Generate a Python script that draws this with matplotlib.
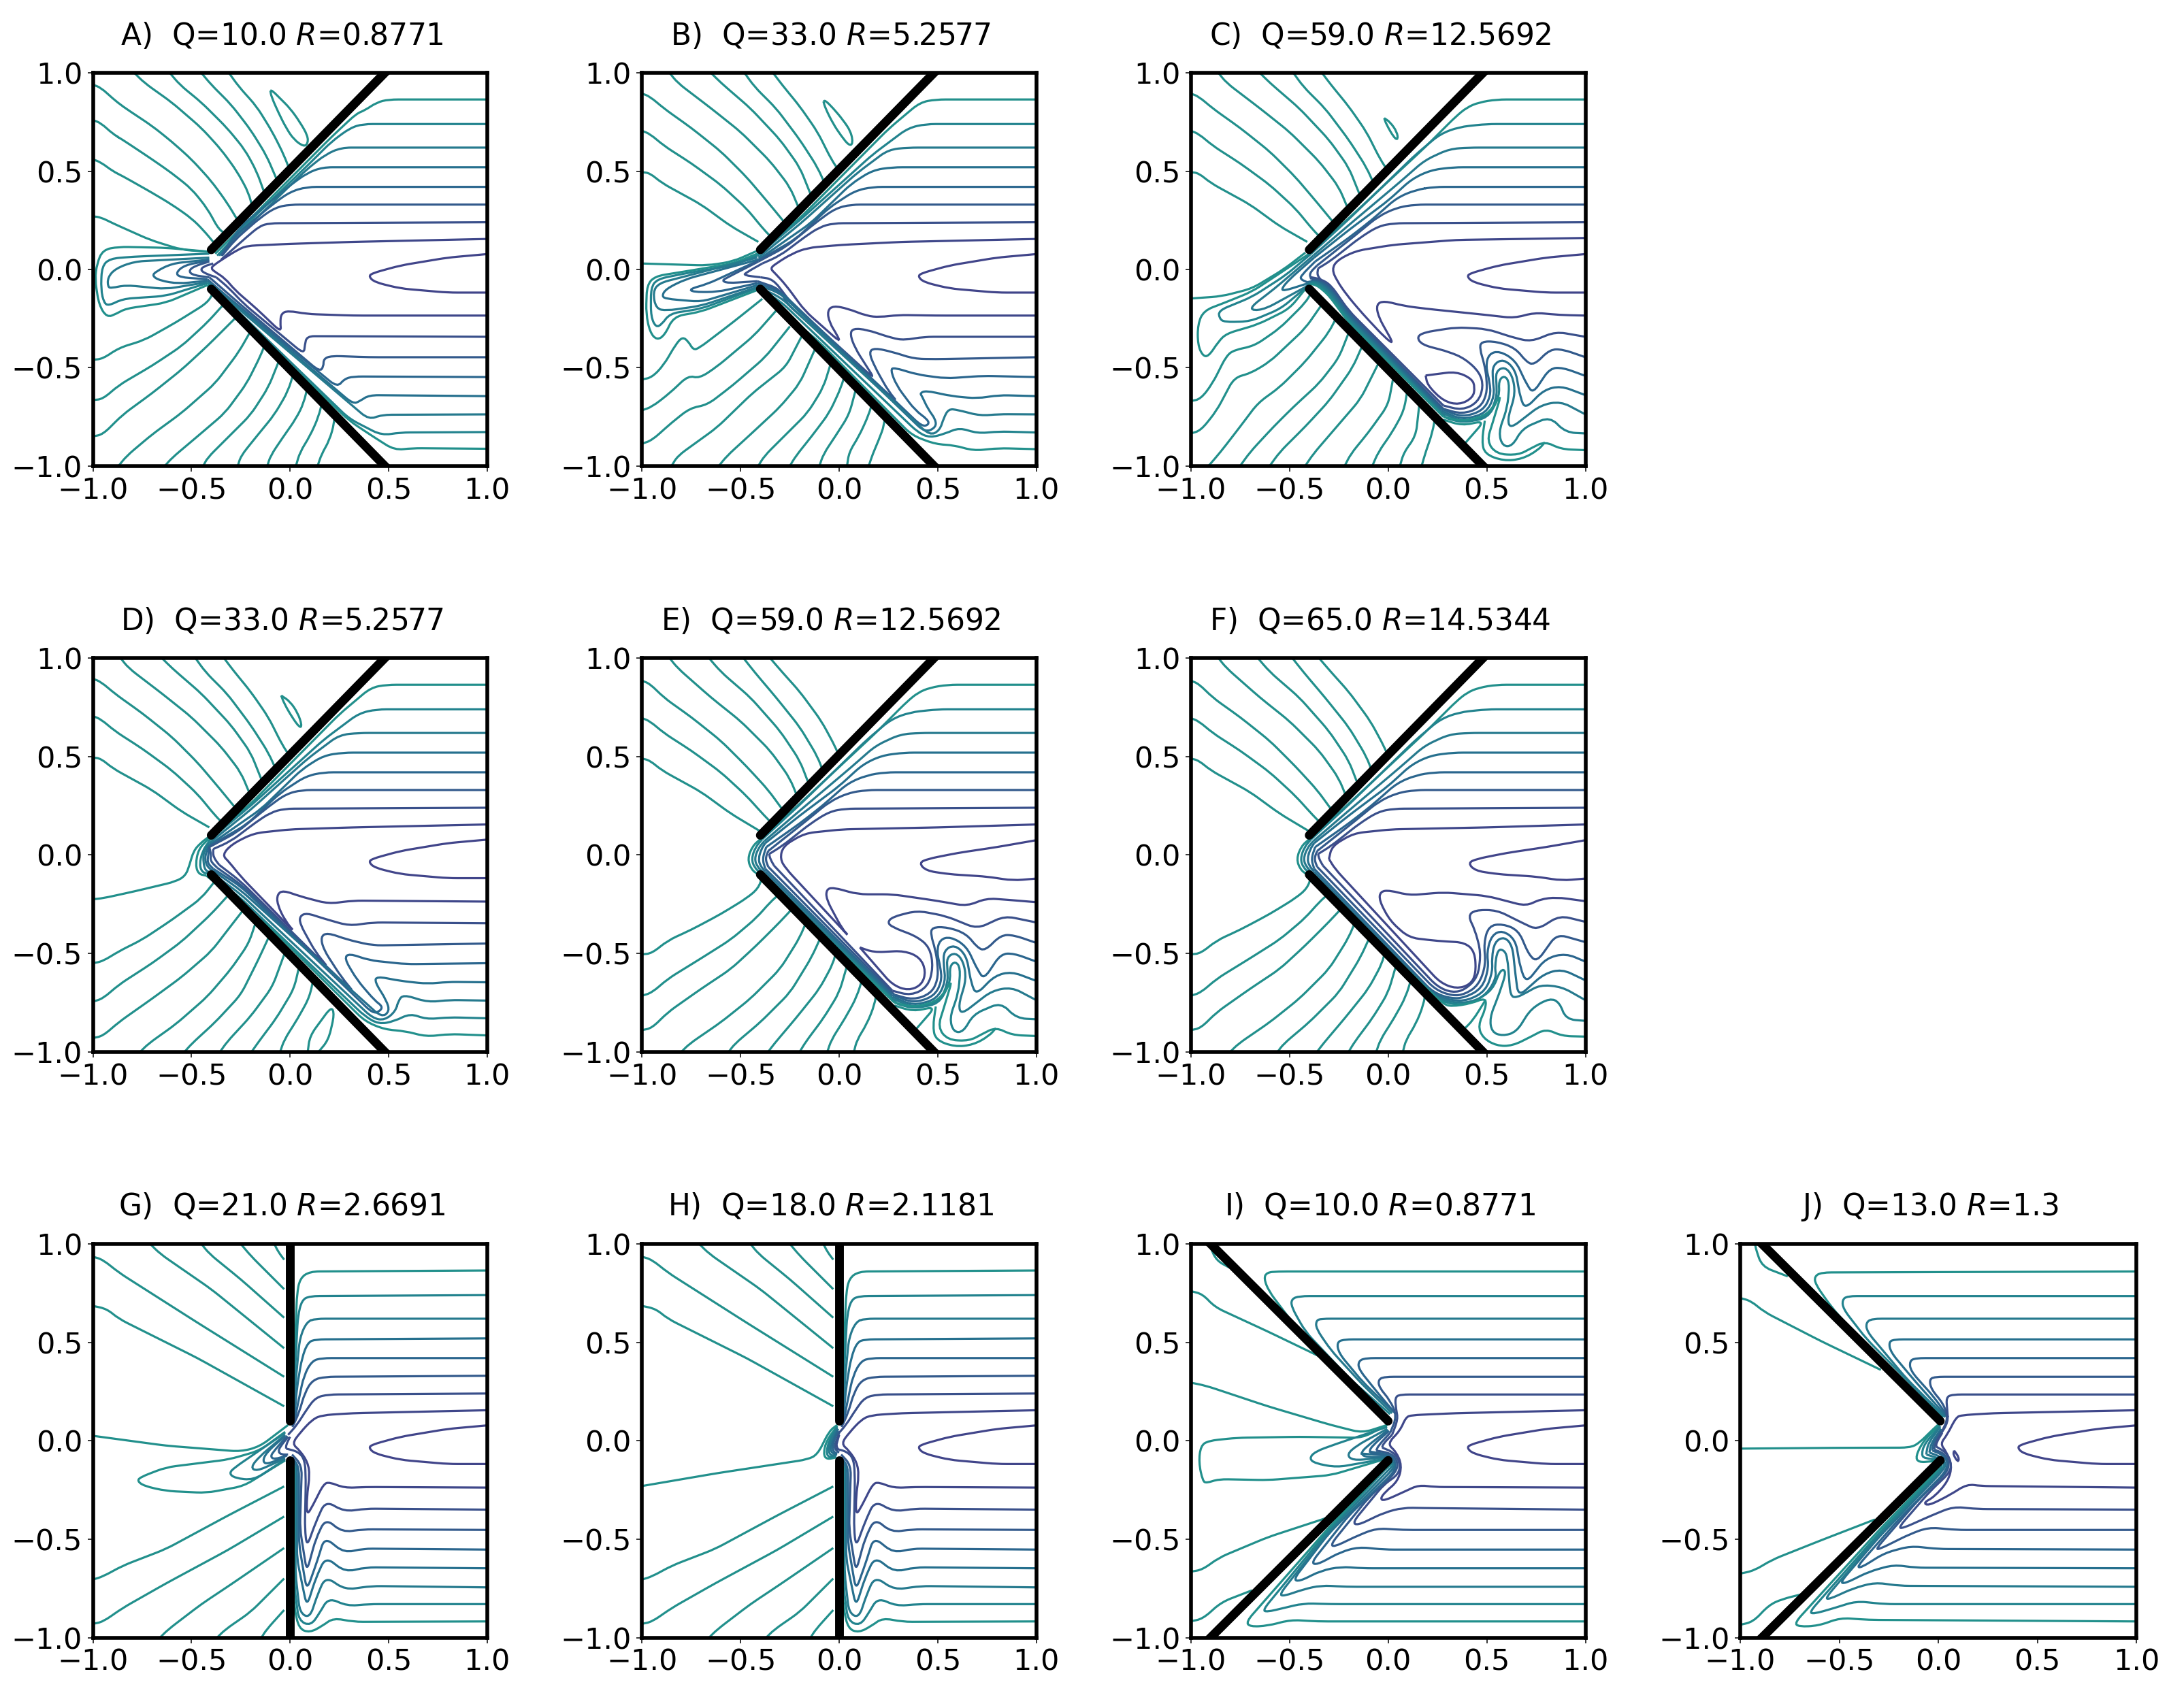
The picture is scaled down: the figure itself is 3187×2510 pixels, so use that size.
import numpy as np
import matplotlib
matplotlib.use('Agg')
import matplotlib.pyplot as plt
from matplotlib.path import Path
from matplotlib.patches import PathPatch

# contour levels, outermost teal to innermost blue; each line is (level, [x, y, x, y, ...])
level_colors = ['#22908c', '#22838e', '#267a8e', '#26708e', '#2b668e', '#335a8c', '#3a508b', '#3f478a', '#41458a']
titles = [r'A)  Q=10.0 $R$=0.8771', r'B)  Q=33.0 $R$=5.2577', r'C)  Q=59.0 $R$=12.5692',
          r'D)  Q=33.0 $R$=5.2577', r'E)  Q=59.0 $R$=12.5692', r'F)  Q=65.0 $R$=14.5344',
          r'G)  Q=21.0 $R$=2.6691', r'H)  Q=18.0 $R$=2.1181', r'I)  Q=10.0 $R$=0.8771', r'J)  Q=13.0 $R$=1.3']
ticks = [-1.0, -0.5, 0.0, 0.5, 1.0]

# walls
wall_fwd = [[-0.4, 0.1, 0.5, 1.02], [-0.4, -0.1, 0.5, -1.02]]
wall_mid = [[0, 0.1, 0, 1.05], [0, -0.1, 0, -1.05]]
wall_back = [[0, 0.1, -0.92, 1.02], [0, -0.1, -0.92, -1.02]]
wall_back_j = [[0.01, 0.1, -0.91, 1.02], [0.01, -0.1, -0.91, -1.02]]

core = [(8, [1, .078, .8, .06, .56, .02, .415, -.02, .4, -.037, .43, -.065, .56, -.097, .8, -.118, 1, -.118])]
core_e = [(8, [1, .075, .8, .04, .6, .01, .45, -.02, .405, -.04, .44, -.08, .56, -.098, .75, -.11, .88, -.13, 1, -.12])]

# panel A
a_upper = [
    (0, [1, .865, .6, .865, .5, .865, .44, .85, .38, .81, .337, .793, .21, .674, -.2, .26, -.38, .08]),
    (1, [1, .74, .37, .74, .305, .72, .21, .65, .1, .54, -.2, .25, -.37, .07]),
    (2, [1, .62, .26, .62, .18, .585, .08, .505, -.15, .28, -.36, .07]),
    (3, [1, .52, .165, .52, .085, .49, -.01, .42, -.25, .22, -.35, .075]),
    (4, [1, .42, .085, .42, 0, .395, -.09, .33, -.28, .17, -.35, .07]),
    (5, [1, .33, 0, .33, -.075, .315, -.155, .26, -.28, .15, -.345, .07]),
    (6, [1, .24, -.105, .235, -.155, .22, -.22, .165, -.31, .085, -.35, .05]),
    (7, [1, .155, .32, .14, 0, .13, -.22, .12, -.265, .1, -.33, .06, -.39, .02, -.4, .005, -.385, -.01, -.33, -.045,
         -.28, -.105, -.17, -.2, -.045, -.32, -.05, -.27, -.045, -.225, -.01, -.21, .085, -.227, .32, -.235, 1, -.235]),
]
a_fingers = [
    (0, [-.41, .09, -.63, .11, -.87, .115, -.95, .1, -.98, .03, -.99, -.05, -.97, -.18, -.93, -.245, -.88, -.225, -.835, -.2, -.63, -.17, -.42, -.08]),
    (1, [-.41, .08, -.79, .065, -.915, .055, -.955, .015, -.96, -.1, -.945, -.17, -.92, -.185, -.85, -.15, -.63, -.135, -.42, -.07]),
    (2, [-.41, .06, -.79, .04, -.885, .005, -.925, -.04, -.925, -.09, -.905, -.095, -.835, -.08, -.63, -.1, -.42, -.065]),
    (3, [-.41, .05, -.6, .03, -.68, -.01, -.7, -.033, -.66, -.057, -.565, -.073, -.42, -.057]),
    (4, [-.41, .045, -.535, .022, -.58, -.017, -.56, -.04, -.42, -.05]),
    (5, [-.41, .04, -.49, .015, -.515, -.01, -.49, -.03, -.41, -.04]),
    (6, [-.39, .03, -.44, .015, -.455, -.005, -.42, -.025, -.375, -.04]),
]
a_lower = [
    (6, [-.375, -.04, -.31, -.095, -.235, -.175, .07, -.43, .075, -.385, .085, -.34, .16, -.34, 1, -.343]),
    (5, [-.41, -.04, -.33, -.11, -.25, -.18, .15, -.52, .17, -.495, .17, -.455, .21, -.44, .4, -.447, 1, -.447]),
    (4, [-.42, -.05, -.34, -.12, .24, -.6, .275, -.558, .32, -.545, 1, -.548]),
    (3, [-.42, -.057, -.34, -.125, .32, -.685, .355, -.67, .4, -.64, 1, -.645]),
    (2, [-.42, -.065, -.35, -.125, .4, -.765, .465, -.74, 1, -.738]),
    (1, [-.42, -.07, -.35, -.13, .3, -.76, .465, -.845, .56, -.83, 1, -.828]),
    (0, [-.42, -.08, -.36, -.14, .3, -.77, .42, -.85, .53, -.92, .62, -.91, 1, -.913]),
]
a_left = [
    (0, [-1, .27, -.96, .265, -.9, .235, -.71, .15, -.55, .1, -.42, .09]),
    (0, [-1, .56, -.96, .545, -.9, .5, -.85, .475, -.7, .39, -.6, .33, -.5, .26, -.44, .2, -.39, .14]),
    (0, [-1, .76, -.96, .745, -.9, .69, -.85, .66, -.7, .56, -.6, .49, -.5, .41, -.42, .31, -.36, .2, -.32, .18]),
    (0, [-1, .94, -.96, .925, -.9, .87, -.85, .83, -.7, .73, -.6, .65, -.5, .56, -.4, .45, -.32, .34, -.26, .24]),
    (0, [-.79, 1, -.74, .95, -.6, .85, -.45, .72, -.35, .61, -.27, .5, -.21, .39, -.19, .31]),
    (0, [-.61, 1, -.56, .94, -.45, .85, -.32, .72, -.23, .61, -.17, .5, -.125, .375]),
    (0, [-.45, 1, -.4, .94, -.3, .84, -.2, .71, -.12, .58, -.06, .44]),
    (0, [-.31, 1, -.26, .93, -.17, .83, -.09, .7, -.03, .58, 0, .5]),
    (0, [-.1, .91, -.095, .88, -.06, .8, -.02, .72, .02, .66, .07, .625, .09, .64, .09, .68, .05, .75, 0, .82, -.05, .87, -.09, .91, -.1, .91]),
    (0, [-1, -.46, -.95, -.455, -.87, -.4, -.74, -.36, -.58, -.27, -.42, -.17, -.39, -.12]),
    (0, [-1, -.665, -.95, -.66, -.87, -.59, -.7, -.49, -.55, -.39, -.42, -.27, -.33, -.17]),
    (0, [-1, -.85, -.95, -.84, -.85, -.74, -.7, -.63, -.55, -.51, -.42, -.39, -.3, -.27, -.265, -.235]),
    (0, [-.87, -1, -.83, -.95, -.7, -.84, -.55, -.73, -.38, -.58, -.26, -.42, -.195, -.305]),
    (0, [-.635, -1, -.6, -.96, -.47, -.85, -.33, -.73, -.22, -.58, -.15, -.44, -.125, -.375]),
    (0, [-.44, -1, -.42, -.96, -.32, -.86, -.2, -.74, -.11, -.6, -.05, -.45]),
    (0, [-.265, -1, -.25, -.95, -.17, -.85, -.08, -.74, -.01, -.62, .02, -.52]),
    (0, [-.115, -1, -.1, -.95, -.04, -.86, .03, -.76, .07, -.68, .09, -.59]),
    (0, [.03, -1, .05, -.93, .1, -.85, .145, -.75, .165, -.665]),
    (0, [.14, -1, .16, -.94, .2, -.87, .225, -.78, .225, -.725]),
]

# panel B, upper lines also used by D
b_upper = [
    (0, [1, .865, .49, .865, .41, .85, .25, .715, -.2, .26, -.415, .08]),
    (1, [1, .74, .44, .74, .35, .72, .17, .585, -.2, .25, -.415, .07]),
    (2, [1, .62, .35, .62, .25, .61, .09, .49, -.2, .23, -.41, .06]),
    (3, [1, .52, .27, .52, .17, .505, .06, .435, -.145, .235, -.41, .05]),
    (4, [1, .42, .17, .42, .08, .4, -.05, .315, -.22, .155, -.41, .045]),
    (5, [1, .33, .06, .33, -.02, .31, -.11, .245, -.27, .115, -.41, .04]),
    (6, [1, .24, -.03, .235, -.1, .215, -.175, .165, -.3, .07, -.39, .03]),
]
b_fingers = [
    (0, [-.415, .08, -.54, .03, -.78, -.01, -.935, -.035, -.975, -.08, -.98, -.225, -.96, -.32, -.925, -.36, -.885, -.335, -.84, -.24, -.7, -.215, -.415, -.105]),
    (1, [-.415, .07, -.54, .02, -.78, -.02, -.925, -.05, -.955, -.095, -.955, -.24, -.93, -.295, -.9, -.28, -.86, -.225, -.7, -.2, -.415, -.095]),
    (2, [-.415, .06, -.78, -.035, -.915, -.07, -.945, -.115, -.93, -.2, -.875, -.21, -.7, -.185, -.415, -.09]),
    (3, [-.41, .05, -.78, -.05, -.88, -.1, -.9, -.137, -.875, -.15, -.7, -.165, -.415, -.08]),
    (4, [-.41, .045, -.67, -.075, -.76, -.1, -.74, -.115, -.62, -.115, -.415, -.07]),
    (5, [-.41, .04, -.565, -.04, -.595, -.057, -.565, -.07, -.415, -.06]),
    (6, [-.39, .03, -.47, -.015, -.485, -.03, -.4, -.04]),
]
b_lower = [
    (7, [1, .155, .32, .14, .015, .125, -.16, .11, -.24, .08, -.32, .03, -.35, .005, -.325, -.02, -.27, -.08, -.175, -.21, .005, -.37, -.01, -.335,
         -.05, -.27, -.06, -.21, -.03, -.185, .045, -.2, .14, -.237, .205, -.243, .3, -.232, .49, -.235, 1, -.235]),
    (6, [-.4, -.04, -.335, -.05, -.24, -.175, .18, -.558, .14, -.495, .08, -.4, .055, -.33, .07, -.3, .14, -.307, .27, -.35, .33, -.36, .43, -.343, 1, -.343]),
    (5, [-.415, -.06, -.3, -.1, -.27, -.17, .3, -.68, .25, -.62, .18, -.495, .15, -.42, .18, -.4, .27, -.42, .38, -.455, .49, -.457, 1, -.447]),
    (4, [-.415, -.07, -.3, -.11, .42, -.8, .455, -.79, .45, -.765, .385, -.717, .29, -.59, .26, -.51, .28, -.5, .395, -.535, .54, -.555, .73, -.542, 1, -.548]),
    (3, [-.415, -.08, -.3, -.12, .435, -.83, .49, -.805, .49, -.765, .45, -.71, .42, -.645, .41, -.63, .44, -.617, .57, -.645, .7, -.657, .81, -.64, 1, -.645]),
    (2, [-.415, -.09, -.3, -.14, .46, -.845, .51, -.82, .53, -.757, .555, -.71, .6, -.715, .715, -.745, .81, -.737, 1, -.738]),
    (1, [-.415, -.095, -.3, -.16, .4, -.83, .46, -.857, .54, -.835, .61, -.805, .7, -.835, .81, -.825, 1, -.83]),
    (0, [-.415, -.105, -.1, -.37, .37, -.845, .49, -.89, .585, -.895, .68, -.923, .81, -.91, 1, -.915]),
]
b_left_upper = [
    (0, [-1, .495, -.96, .49, -.9, .44, -.7, .33, -.55, .22, -.41, .14]),
    (0, [-1, .705, -.96, .69, -.89, .63, -.75, .54, -.6, .43, -.47, .31, -.38, .2, -.34, .16]),
    (0, [-1, .895, -.96, .88, -.89, .82, -.75, .72, -.6, .6, -.47, .47, -.36, .34, -.27, .23]),
    (0, [-.86, 1, -.82, .95, -.65, .82, -.5, .7, -.35, .55, -.25, .42, -.2, .3]),
    (0, [-.65, 1, -.6, .95, -.45, .82, -.3, .66, -.2, .52, -.14, .37]),
    (0, [-.48, 1, -.43, .93, -.32, .82, -.2, .66, -.11, .52, -.07, .43]),
    (0, [-.335, 1, -.29, .94, -.2, .83, -.11, .7, -.04, .56, 0, .5]),
]
b_loop = [(0, [-.08, .855, -.07, .82, -.03, .74, .01, .68, .05, .63, .07, .64, .06, .7, .02, .76, -.03, .82, -.07, .86, -.08, .855])]
b_left_lower = [
    (0, [-1, .03, -.67, .02, -.54, .04, -.415, .095]),
    (0, [-1, -.56, -.95, -.55, -.89, -.487, -.83, -.383, -.795, -.343, -.765, -.367, -.74, -.41, -.71, -.4, -.54, -.27, -.39, -.15]),
    (0, [-1, -.717, -.95, -.7, -.86, -.63, -.765, -.54, -.71, -.555, -.62, -.495, -.43, -.335, -.32, -.21]),
    (0, [-1, -.887, -.95, -.87, -.85, -.78, -.755, -.705, -.67, -.69, -.54, -.59, -.375, -.447, -.25, -.29]),
    (0, [-.85, -1, -.82, -.95, -.62, -.805, -.44, -.63, -.27, -.495, -.185, -.33]),
    (0, [-.61, -1, -.57, -.95, -.45, -.84, -.3, -.7, -.2, -.58, -.12, -.4]),
    (0, [-.41, -1, -.38, -.95, -.28, -.85, -.16, -.73, -.08, -.6, -.04, -.47]),
    (0, [-.25, -1, -.22, -.95, -.14, -.85, -.05, -.73, .01, -.6, .03, -.53]),
    (0, [-.1, -1, -.08, -.94, -.02, -.85, .05, -.74, .09, -.59]),
    (0, [.04, -1, .05, -.93, .1, -.85, .15, -.74, .17, -.67]),
    (0, [.15, -1, .17, -.94, .2, -.87, .23, -.79, .23, -.73]),
]

# panel C, upper lines and the spirals also used by E
c_upper = [
    (0, [1, .865, .55, .865, .46, .85, .4, .825, .345, .78, .185, .62, -.2, .26, -.4, .08]),
    (1, [1, .74, .5, .74, .36, .725, .265, .69, .14, .585, -.2, .255, -.39, .08]),
    (2, [1, .62, .41, .62, .31, .613, .185, .555, .06, .445, -.2, .225, -.38, .07]),
    (3, [1, .52, .33, .52, .215, .505, .12, .46, 0, .35, -.2, .2, -.375, .06]),
    (4, [1, .42, .235, .42, .14, .405, .045, .365, -.085, .25, -.2, .16, -.37, .04]),
    (5, [1, .33, .14, .33, .045, .315, -.05, .27, -.165, .175, -.36, .02]),
    (6, [1, .24, .03, .235, -.05, .22, -.145, .16, -.29, .045, -.355, .005]),
]
c_wedge7 = [(7, [1, .16, .345, .15, .025, .125, -.165, .094, -.26, .046, -.285, 0, -.26, -.057, -.21, -.13, -.13, -.225, -.02, -.343, .03, -.383,
                 -.05, -.24, -.06, -.177, -.02, -.16, .075, -.185, .19, -.2, .345, -.216, .5, -.232, .64, -.248, .74, -.22, .87, -.232, 1, -.235])]
c_fingers = [
    (0, [-.4, .08, -.545, -.017, -.69, -.113, -.83, -.17, -.935, -.21, -.965, -.28, -.965, -.383, -.94, -.44, -.91, -.443, -.86, -.367, -.82, -.327, -.66, -.28, -.5, -.2, -.42, -.1]),
    (1, [-.39, .08, -.52, -.03, -.69, -.14, -.86, -.21, -.855, -.25, -.83, -.268, -.7, -.265, -.545, -.2, -.42, -.095]),
    (2, [-.38, .07, -.575, -.097, -.695, -.19, -.685, -.21, -.62, -.2, -.42, -.09]),
    (3, [-.375, .06, -.5, -.05, -.54, -.097, -.53, -.11, -.42, -.075]),
    (4, [-.37, .04, -.44, -.03, -.445, -.05, -.41, -.065]),
    (5, [-.36, .02, -.4, -.02, -.39, -.05]),
    (6, [-.355, .005, -.36, -.03, -.335, -.06]),
]
c_hug = [
    (6, [-.39, -.04, -.34, -.05, -.29, -.08, -.2, -.21, .28, -.693]),
    (5, [-.39, -.05, -.34, -.055, -.29, -.09, -.2, -.22, .28, -.71]),
    (4, [-.41, -.065, -.36, -.055, -.3, -.09, -.2, -.23, .27, -.71]),
    (3, [-.42, -.075, -.37, -.055, -.3, -.1, -.2, -.24, .27, -.72]),
    (2, [-.42, -.09, -.38, -.055, -.31, -.1, -.2, -.25, .27, -.73]),
    (1, [-.42, -.095, -.38, -.06, -.31, -.11, -.2, -.26, .295, -.757]),
    (0, [-.42, -.1, -.385, -.065, -.31, -.12, -.2, -.27, .28, -.75]),
]
spiral = [
    (5, [1, -.447, .885, -.407, .82, -.407, .74, -.487, .7, -.47, .645, -.4, .55, -.367, .47, -.367, .465, -.407, .487, -.478, .5, -.557, .5, -.637, .465, -.705, .375, -.737, .28, -.71]),
    (4, [1, -.542, .885, -.5, .82, -.503, .735, -.63, .705, -.59, .645, -.463, .565, -.415, .51, -.43, .495, -.494, .515, -.574, .52, -.645, .48, -.72, .375, -.752, .27, -.71]),
    (3, [1, -.64, .875, -.593, .79, -.613, .695, -.71, .67, -.653, .645, -.51, .585, -.455, .53, -.486, .53, -.56, .54, -.645, .495, -.733, .375, -.765, .27, -.72]),
    (2, [1, -.738, .875, -.672, .775, -.69, .62, -.81, .605, -.765, .645, -.63, .63, -.54, .59, -.495, .545, -.52, .55, -.59, .55, -.653, .51, -.75, .375, -.775, .27, -.73]),
    (1, [1, -.835, .9, -.83, .82, -.75, .68, -.81, .63, -.9, .58, -.9, .56, -.83, .605, -.7, .615, -.575, .59, -.54, .56, -.565, .565, -.645, .505, -.757, .375, -.78, .295, -.757]),
    (0, [1, -.92, .875, -.915, .795, -.875, .725, -.91, .66, -.945, .55, -.94, .5, -.875, .53, -.78, .575, -.63, .505, -.74, .375, -.775, .28, -.75]),
    (0, [.39, -.885, .49, -.77, .375, -.795, .28, -.765]),
    (0, [.49, -.77, .475, -.875, .49, -.94, .585, -.975, .68, -.965, .76, -.92, .795, -.88]),
]
c_inner = [
    (6, [1, -.343, .85, -.317, .725, -.367, .645, -.35, .5, -.303, .345, -.295, .185, -.32, .145, -.343, .17, -.383, .31, -.42, .39, -.455, .465, -.525, .483, -.598, .455, -.677, .375, -.717, .28, -.693]),
    (7, [.19, -.54, .345, -.52, .425, -.557, .44, -.6, .43, -.653, .36, -.69, .28, -.67, .2, -.59, .19, -.54]),
]
c_left_lower = [
    (0, [-1, -.148, -.845, -.137, -.69, -.097, -.53, 0, -.42, .085]),
    (0, [-1, -.67, -.95, -.66, -.89, -.58, -.82, -.44, -.78, -.41, -.68, -.39, -.55, -.3, -.42, -.17, -.39, -.12]),
    (0, [-1, -.835, -.95, -.82, -.87, -.72, -.78, -.55, -.7, -.53, -.6, -.47, -.42, -.3, -.33, -.17]),
    (0, [-.91, -1, -.85, -.93, -.75, -.8, -.66, -.68, -.55, -.6, -.42, -.47, -.3, -.32, -.26, -.24]),
    (0, [-.75, -1, -.7, -.93, -.58, -.8, -.48, -.7, -.35, -.58, -.25, -.45, -.195, -.31]),
    (0, [-.6, -1, -.55, -.93, -.42, -.8, -.3, -.67, -.18, -.5, -.125, -.375]),
    (0, [-.42, -1, -.38, -.94, -.26, -.8, -.14, -.66, -.06, -.5, -.04, -.46]),
    (0, [-.22, -1, -.19, -.94, -.1, -.83, 0, -.69, .03, -.53]),
    (0, [-.08, -1, -.05, -.93, .02, -.83, .08, -.72, .1, -.6]),
    (0, [.06, -1, .08, -.93, .14, -.85, .16, -.67]),
    (0, [.17, -1, .19, -.93, .225, -.83, .24, -.74]),
]
c_loop = [(0, [-.02, .77, -.01, .74, .03, .67, .05, .66, .045, .7, .01, .75, -.02, .77])]

# panel D
d_arcs = [
    (0, [-.415, .08, -.465, .03, -.48, -.05, -.465, -.097, -.425, -.105]),
    (1, [-.41, .07, -.445, .02, -.46, -.05, -.445, -.09, -.41, -.095]),
    (2, [-.41, .06, -.44, .015, -.44, -.04, -.43, -.08, -.4, -.09]),
    (3, [-.41, .05, -.43, .005, -.43, -.04, -.41, -.07, -.39, -.08]),
    (4, [-.41, .045, -.415, 0, -.42, -.04, -.39, -.07]),
    (5, [-.41, .04, -.4, 0, -.405, -.03, -.37, -.065]),
    (6, [-.39, .03, -.39, -.01, -.36, -.05]),
]
d_lower = [
    (7, [1, .155, .32, .14, 0, .13, -.185, .11, -.295, .055, -.345, 0, -.31, -.035, -.25, -.11, .03, -.4, -.025, -.335, -.065, -.25, -.065, -.2, -.035, -.18, .05, -.21, .195, -.248, .32, -.232, 1, -.237]),
    (6, [-.36, -.05, -.25, -.135, .2, -.58, .13, -.495, .05, -.35, .05, -.31, .085, -.295, .16, -.32, .3, -.36, .42, -.343, 1, -.347]),
    (5, [-.37, -.065, -.25, -.15, .33, -.705, .26, -.62, .17, -.48, .155, -.415, .19, -.395, .29, -.43, .42, -.46, 1, -.45]),
    (4, [-.39, -.07, -.25, -.16, .42, -.805, .455, -.795, .47, -.77, .43, -.74, .34, -.635, .275, -.525, .3, -.5, .4, -.535, .59, -.555, 1, -.55]),
    (3, [-.39, -.08, -.25, -.18, .465, -.825, .505, -.795, .49, -.74, .43, -.645, .44, -.617, .56, -.64, .7, -.655, .8, -.645, 1, -.647]),
    (2, [-.4, -.09, -.25, -.2, .42, -.83, .48, -.84, .535, -.795, .55, -.74, .575, -.71, .7, -.748, .81, -.737, 1, -.74]),
    (1, [-.41, -.095, -.25, -.22, .38, -.82, .45, -.86, .53, -.845, .61, -.805, .69, -.835, .81, -.825, 1, -.83]),
    (0, [-.425, -.105, -.1, -.37, .38, -.845, .48, -.887, .585, -.895, .69, -.923, .81, -.91, 1, -.917]),
]
d_left_lower = [
    (0, [-1, -.225, -.95, -.22, -.79, -.185, -.58, -.135, -.53, -.105, -.51, -.05, -.49, .02, -.455, .06, -.415, .09]),
    (0, [-1, -.55, -.95, -.54, -.87, -.49, -.75, -.43, -.6, -.33, -.45, -.22, -.375, -.125]),
    (0, [-1, -.745, -.95, -.73, -.87, -.66, -.7, -.55, -.55, -.44, -.4, -.3, -.305, -.195]),
    (0, [-1, -.93, -.95, -.92, -.87, -.85, -.7, -.73, -.55, -.62, -.4, -.49, -.3, -.36, -.23, -.27]),
    (0, [-.76, -1, -.72, -.96, -.58, -.86, -.42, -.72, -.3, -.58, -.21, -.45, -.17, -.33]),
    (0, [-.535, -1, -.5, -.96, -.38, -.85, -.25, -.71, -.16, -.53, -.1, -.4]),
    (0, [-.355, -1, -.32, -.95, -.2, -.82, -.09, -.67, -.02, -.48]),
    (0, [-.195, -1, -.16, -.95, -.07, -.83, .02, -.68, .05, -.55]),
    (0, [-.05, -1, -.03, -.94, .04, -.83, .1, -.72, .12, -.62]),
    (0, [.09, -1, .1, -.92, .21, -.77, .225, -.81, .195, -.94, .145, -1]),
]
d_loop = [(0, [-.045, .81, -.03, .77, .01, .7, .05, .645, .06, .66, .04, .72, 0, .78, -.045, .81])]

# panels E and F, wall-side arcs round the tip
e_arcs = [
    (0, [-.4, .08, -.44, .045, -.465, -.02, -.445, -.075, -.41, -.1]),
    (1, [-.39, .08, -.425, .04, -.445, -.02, -.43, -.065, -.395, -.095]),
    (2, [-.38, .07, -.41, .035, -.43, -.02, -.415, -.06, -.385, -.09]),
    (3, [-.375, .06, -.395, .03, -.41, -.02, -.4, -.055, -.375, -.085]),
    (4, [-.37, .04, -.39, -.02, -.375, -.07]),
    (5, [-.36, .02, -.375, -.02, -.36, -.06]),
    (6, [-.355, .005, -.35, -.02, -.33, -.055]),
]
e_hug = [
    (6, [-.33, -.055, .27, -.69]),
    (5, [-.36, -.06, .28, -.71]),
    (4, [-.375, -.07, .27, -.71]),
    (3, [-.375, -.085, .27, -.72]),
    (2, [-.385, -.09, .27, -.73]),
    (1, [-.395, -.095, .295, -.757]),
    (0, [-.41, -.1, .28, -.75]),
]
e_wedge7 = [(7, [1, .155, .5, .14, .015, .13, -.175, .11, -.285, .045, -.3, -.02, -.27, -.07, .055, -.42, .015, -.375, -.065, -.225, -.065, -.175, -.03, -.165,
                 .095, -.2, .27, -.2, .49, -.232, .65, -.26, .745, -.22, .855, -.228, 1, -.24])]
e_teardrop = [(7, [.105, -.47, .175, -.495, .33, -.487, .41, -.52, .44, -.59, .42, -.66, .35, -.69, .27, -.66, .105, -.47])]
e_inner6 = [(6, [1, -.343, .84, -.31, .7, -.375, .54, -.31, .395, -.283, .27, -.315, .245, -.343, .27, -.367, .395, -.415, .46, -.47, .477, -.572, .45, -.67, .365, -.715, .27, -.69])]
e_left_upper = [
    (0, [-1, .49, -.96, .48, -.9, .43, -.7, .32, -.55, .21, -.45, .15, -.4, .12]),
    (0, [-1, .695, -.96, .68, -.89, .62, -.75, .53, -.6, .42, -.47, .3, -.38, .2, -.34, .16]),
    (0, [-1, .885, -.96, .87, -.89, .8, -.75, .7, -.6, .58, -.47, .45, -.36, .33, -.28, .22]),
    (0, [-.86, 1, -.82, .95, -.65, .8, -.5, .68, -.35, .53, -.25, .39, -.21, .29]),
    (0, [-.66, 1, -.6, .93, -.45, .8, -.3, .63, -.2, .48, -.15, .35]),
    (0, [-.485, 1, -.43, .93, -.32, .8, -.2, .65, -.11, .5, -.08, .42]),
    (0, [-.35, 1, -.29, .93, -.2, .83, -.09, .68, -.02, .55, 0, .5]),
]
e_left_lower = [
    (0, [-1, -.505, -.95, -.5, -.87, -.435, -.75, -.38, -.6, -.3, -.47, -.22, -.41, -.17, -.39, -.11]),
    (0, [-1, -.715, -.95, -.7, -.87, -.63, -.7, -.525, -.55, -.43, -.42, -.32, -.35, -.24, -.305, -.2]),
    (0, [-1, -.89, -.95, -.88, -.87, -.8, -.7, -.68, -.55, -.58, -.42, -.46, -.3, -.34, -.235, -.27]),
    (0, [-.8, -1, -.76, -.96, -.6, -.85, -.45, -.73, -.3, -.58, -.2, -.42, -.165, -.335]),
    (0, [-.56, -1, -.53, -.96, -.4, -.85, -.25, -.7, -.14, -.52, -.09, -.41]),
    (0, [-.36, -1, -.33, -.96, -.22, -.83, -.1, -.68, -.03, -.55, -.015, -.485]),
    (0, [-.2, -1, -.17, -.95, -.08, -.83, 0, -.7, .045, -.545]),
    (0, [-.06, -1, -.04, -.94, .03, -.83, .09, -.72, .12, -.62]),
    (0, [.075, -1, .09, -.94, .14, -.86, .18, -.76, .19, -.69]),
]
f_lower = [
    (7, [-.3, -.02, -.27, -.07, .265, -.65, .345, -.68, .415, -.66, .445, -.605, .44, -.493, .39, -.445, .25, -.437, .105, -.42, .01, -.335, -.045, -.232, -.04, -.185, .01, -.18,
         .105, -.205, .28, -.19, .5, -.208, .7, -.26, .77, -.225, .855, -.215, 1, -.235]),
    (7, [1, .155, .5, .14, .015, .13, -.175, .11, -.285, .045, -.3, -.02]),
    (6, [-.33, -.055, .25, -.67, .325, -.7, .39, -.685, .455, -.62, .47, -.495, .44, -.38, .405, -.31, .44, -.28, .55, -.28, .69, -.35, .755, -.38, .87, -.308, 1, -.34]),
    (5, [-.36, -.06, .24, -.685, .325, -.716, .39, -.708, .46, -.66, .495, -.557, .485, -.447, .51, -.36, .58, -.35, .66, -.382, .715, -.51, .755, -.542, .855, -.402, 1, -.443]),
    (4, [-.375, -.07, .23, -.7, .32, -.73, .39, -.725, .477, -.677, .51, -.573, .5, -.494, .525, -.407, .58, -.383, .645, -.43, .67, -.573, .7, -.65, .8, -.525, .9, -.5, 1, -.542]),
    (3, [-.375, -.085, .225, -.707, .32, -.74, .405, -.74, .495, -.69, .53, -.59, .525, -.525, .54, -.44, .59, -.415, .63, -.462, .645, -.605, .66, -.72, .79, -.604, .88, -.58, 1, -.637]),
    (2, [-.385, -.09, .225, -.715, .32, -.75, .42, -.75, .5, -.708, .55, -.62, .54, -.573, .555, -.478, .59, -.485, .605, -.525, .62, -.717, .65, -.725, .7, -.7, .77, -.66, .88, -.67, 1, -.738]),
    (1, [-.395, -.095, .23, -.725, .32, -.76, .42, -.757, .53, -.685, .57, -.58, .6, -.59, .565, -.7, .515, -.828, .525, -.9, .58, -.92, .65, -.9, .725, -.78, .82, -.727, .87, -.75, .9, -.835, 1, -.843]),
    (0, [-.41, -.1, .28, -.757, .32, -.77, .42, -.755, .495, -.725, .495, -.78, .455, -.867, .48, -.93, .55, -.97, .63, -.97, .725, -.923, .8, -.883, .88, -.92, 1, -.923]),
    (0, [.385, -.885, .43, -.84, .495, -.735]),
]

# panels G and H share all but the fingers
g_upper = [
    (0, [1, .865, .1, .86, .05, .825, .035, .745, .02, .35, .015, .095, .005, .08]),
    (1, [1, .74, .1, .735, .06, .715, .04, .635, .025, .35, .02, .125, .005, .08]),
    (2, [1, .62, .13, .62, .085, .605, .05, .525, .03, .32, .018, .095]),
    (3, [1, .52, .13, .515, .09, .5, .06, .42, .035, .27, .02, .095]),
    (4, [1, .42, .16, .42, .11, .405, .07, .33, .04, .19, .02, .085]),
    (5, [1, .33, .18, .325, .115, .31, .075, .245, .045, .14, .012, .07]),
    (6, [1, .24, .195, .235, .13, .22, .085, .16, .035, .08, -.01, .03]),
]
g_lower = [
    (7, [1, .155, .32, .14, .165, .13, .115, .11, .05, .04, .01, -.015, .05, -.05, .09, -.11, .1, -.175, .085, -.285, .085, -.38, .115, -.33, .17, -.22, .2, -.21, .275, -.24, .385, -.235, 1, -.238]),
    (6, [-.02, -.04, .04, -.055, .075, -.095, .08, -.2, .075, -.445, .085, -.54, .13, -.415, .18, -.305, .275, -.36, .385, -.345, 1, -.35]),
    (5, [.01, -.07, .06, -.125, .05, -.445, .085, -.665, .13, -.5, .18, -.395, .265, -.465, .37, -.45, 1, -.453]),
    (4, [.01, -.085, .045, -.13, .045, -.525, .085, -.76, .14, -.605, .175, -.49, .275, -.57, .37, -.548, 1, -.553]),
    (3, [.01, -.09, .035, -.13, .035, -.6, .085, -.842, .13, -.7, .18, -.59, .28, -.667, .385, -.643, 1, -.648]),
    (2, [.025, -.13, .028, -.68, .05, -.875, .1, -.9, .14, -.78, .18, -.69, .28, -.757, .415, -.738, 1, -.745]),
    (1, [.022, -.13, .024, -.76, .045, -.915, .105, -.94, .15, -.875, .195, -.797, .29, -.84, .4, -.83, 1, -.83]),
    (0, [.02, -.13, .02, -.84, .045, -.955, .1, -.975, .165, -.94, .22, -.9, .32, -.92, 1, -.918]),
]
g_left = [
    (0, [-1, .685, -.93, .67, -.87, .62, -.47, .42, -.03, .175]),
    (0, [-1, .935, -.95, .92, -.87, .855, -.47, .6, -.03, .325]),
    (0, [-.71, 1, -.66, .95, -.4, .77, -.03, .47]),
    (0, [-.45, 1, -.41, .95, -.25, .82, -.03, .625]),
    (0, [-.25, 1, -.2, .94, -.03, .77]),
    (0, [-.08, 1, -.06, .96, -.03, .92]),
    (0, [-1, -.705, -.95, -.69, -.85, -.635, -.63, -.55, -.315, -.38, -.03, -.232]),
    (0, [-1, -.93, -.95, -.92, -.85, -.85, -.63, -.725, -.315, -.555, -.03, -.385]),
    (0, [-.66, -1, -.62, -.96, -.45, -.83, -.3, -.73, -.03, -.545]),
    (0, [-.37, -1, -.33, -.96, -.2, -.87, -.03, -.7]),
    (0, [-.145, -1, -.12, -.96, -.03, -.86]),
]
g_fingers = [
    (0, [-1, .025, -.63, -.025, -.25, -.055, -.155, -.03, -.01, .08]),
    (0, [-.025, .045, -.155, -.05, -.31, -.095, -.63, -.135, -.76, -.185, -.775, -.205, -.74, -.23, -.63, -.255, -.425, -.265, -.235, -.23, -.025, -.1]),
    (1, [-.025, .04, -.185, -.07, -.28, -.135, -.31, -.165, -.28, -.19, -.185, -.2, -.025, -.095]),
    (2, [-.025, .03, -.155, -.08, -.2, -.135, -.17, -.155, -.025, -.09]),
    (3, [-.025, .025, -.12, -.06, -.14, -.105, -.115, -.12, -.025, -.08]),
    (4, [-.015, .025, -.08, -.05, -.1, -.08, -.08, -.095, -.015, -.075]),
    (5, [-.01, .02, -.05, -.03, -.06, -.055, -.045, -.07, -.01, -.07]),
    (6, [0, .02, -.02, -.02, -.02, -.04]),
]
h_fingers = [
    (0, [-1, -.23, -.62, -.165, -.16, -.095, -.11, -.07, -.05, .05, -.01, .08]),
    (0, [-.01, .075, -.065, 0, -.08, -.065, -.065, -.095, -.015, -.085]),
    (1, [-.01, .07, -.05, .005, -.065, -.055, -.055, -.085, -.015, -.08]),
    (2, [-.01, .065, -.04, .01, -.055, -.045, -.045, -.075, -.015, -.075]),
    (3, [-.005, .06, -.03, .01, -.045, -.04, -.035, -.065, -.01, -.07]),
    (4, [-.005, .05, -.025, .005, -.035, -.035, -.025, -.06, -.01, -.065]),
    (5, [0, .04, -.015, 0, -.025, -.03, -.015, -.05, 0, -.06]),
    (6, [0, .03, -.01, -.005, -.015, -.025, -.005, -.045]),
]

# panel I
i_lines = [
    (0, [1, .86, -.56, .86, -.615, .855, -.63, .825, -.605, .76, -.45, .555, -.21, .3, -.005, .125]),
    (1, [1, .735, -.45, .735, -.49, .72, -.49, .68, -.42, .555, -.195, .315, .01, .135]),
    (2, [1, .62, -.34, .62, -.365, .61, -.365, .57, -.29, .46, -.13, .285, .02, .14]),
    (3, [1, .515, -.225, .515, -.26, .5, -.25, .445, -.13, .3, .025, .15]),
    (4, [1, .42, -.115, .42, -.15, .405, -.15, .365, -.05, .24, .035, .14]),
    (5, [1, .325, -.02, .325, -.05, .31, -.045, .27, .01, .205, .045, .125, .01, .04]),
    (6, [1, .235, .06, .235, .035, .22, .04, .16, .05, .11, .02, .03]),
    (7, [1, .155, .345, .14, .12, .13, .09, .12, .06, .05, -.005, -.015, .04, -.055, .07, -.125, .05, -.205, -.015, -.26, -.04, -.295, -.02, -.305, .09, -.255, .155, -.225, .235, -.235, 1, -.238]),
    (6, [-.03, -.035, .03, -.06, .06, -.11, .055, -.17, -.02, -.22, -.18, -.415, -.155, -.43, -.02, -.365, .075, -.34, .185, -.342, 1, -.35]),
    (5, [-.06, -.05, .02, -.065, .05, -.11, .04, -.16, -.1, -.29, -.29, -.525, -.275, -.54, -.15, -.48, -.06, -.445, .075, -.453, 1, -.453]),
    (4, [-.097, -.055, .01, -.07, .04, -.11, .03, -.16, -.2, -.38, -.39, -.62, -.36, -.63, -.24, -.565, -.15, -.54, -.02, -.553, 1, -.553]),
    (3, [-.14, -.065, 0, -.075, .035, -.12, .02, -.15, -.3, -.47, -.48, -.705, -.45, -.715, -.34, -.66, -.24, -.64, -.13, -.648, 1, -.648]),
    (2, [-.005, -.085, .03, -.12, .01, -.14, -.3, -.46, -.55, -.78, -.53, -.79, -.43, -.755, -.34, -.735, -.21, -.742, 1, -.742]),
    (1, [-.005, -.09, .02, -.12, 0, -.13, -.3, -.45, -.635, -.86, -.615, -.87, -.53, -.85, -.43, -.826, -.29, -.83, 1, -.83]),
    (0, [-.005, -.09, .015, -.12, -.01, -.135, -.3, -.44, -.72, -.92, -.7, -.945, -.61, -.94, -.495, -.91, -.355, -.918, 1, -.918]),
]
i_fingers = [
    (0, [-.005, .08, -.13, .015, -.45, .02, -.765, .015, -.91, 0, -.95, -.025, -.96, -.11, -.94, -.205, -.92, -.215, -.86, -.195, -.61, -.2, -.29, -.175, -.005, -.09]),
    (1, [-.005, .07, -.26, -.015, -.37, -.055, -.4, -.09, -.37, -.115, -.26, -.135, -.005, -.09]),
    (2, [-.005, .06, -.16, -.025, -.21, -.07, -.18, -.1, -.005, -.085]),
    (3, [0, .055, -.11, -.03, -.14, -.065, -.11, -.085, 0, -.08]),
    (4, [.005, .05, -.08, -.025, -.097, -.055, -.07, -.07, -.01, -.07]),
    (5, [.01, .04, -.05, -.025, -.06, -.05]),
    (6, [.02, .03, -.025, -.015, -.03, -.035]),
]
i_left = [
    (0, [-.905, 1, -.9, .98, -.87, .915, -.805, .88]),
    (0, [-1, .76, -.94, .745, -.88, .68, -.61, .555, -.32, .415]),
    (0, [-1, .295, -.925, .28, -.61, .175, -.29, .08, -.13, .04, -.005, .08]),
    (0, [-1, -.665, -.94, -.655, -.86, -.595, -.61, -.49, -.305, -.39]),
    (0, [-1, -.917, -.94, -.905, -.845, -.82, -.69, -.76]),
]

# panel J
j_lines = [
    (0, [1, .86, -.59, .855, -.625, .835, -.62, .795, -.54, .68, -.195, .285, .01, .1]),
    (1, [1, .735, -.46, .735, -.485, .715, -.48, .67, -.365, .52, .025, .12]),
    (2, [1, .62, -.335, .62, -.365, .6, -.36, .555, -.16, .315, .035, .12]),
    (3, [1, .515, -.225, .515, -.25, .5, -.24, .45, -.115, .3, .04, .125]),
    (4, [1, .42, -.115, .42, -.145, .405, -.14, .355, -.02, .22, .05, .12]),
    (5, [1, .325, -.02, .325, -.045, .31, -.035, .26, .025, .19, .05, .115, .02, .05]),
    (6, [1, .235, .07, .235, .04, .22, .045, .16, .05, .095, .01, .03]),
    (7, [1, .155, .28, .14, .12, .13, .09, .12, .045, .03, .01, -.015, .04, -.055, .07, -.125, .05, -.205, -.02, -.285, -.075, -.315, -.05, -.33, .06, -.275, .145, -.22, .215, -.23, 1, -.238]),
    (6, [-.01, -.03, .04, -.06, .065, -.11, .06, -.16, -.04, -.255, -.2, -.44, -.18, -.445, -.035, -.38, .075, -.335, .2, -.347, 1, -.35]),
    (5, [-.02, -.045, .03, -.065, .055, -.11, .045, -.16, -.1, -.3, -.315, -.55, -.295, -.55, -.145, -.475, -.05, -.44, .09, -.453, 1, -.453]),
    (4, [-.03, -.05, .02, -.07, .05, -.11, .035, -.16, -.2, -.4, -.41, -.64, -.39, -.645, -.27, -.57, -.14, -.535, 0, -.55, 1, -.553]),
    (3, [-.045, -.06, .01, -.08, .04, -.115, .025, -.15, -.3, -.49, -.495, -.72, -.47, -.725, -.35, -.665, -.225, -.63, -.115, -.645, 1, -.648]),
    (2, [-.06, -.07, .005, -.09, .035, -.12, .02, -.145, -.3, -.48, -.57, -.8, -.55, -.805, -.43, -.75, -.32, -.72, -.195, -.737, 1, -.742]),
    (1, [-.035, -.1, .02, -.115, .015, -.14, -.3, -.47, -.65, -.87, -.63, -.88, -.525, -.85, -.415, -.815, -.27, -.83, 1, -.83]),
    (0, [0, -.105, .01, -.135, -.3, -.455, -.725, -.925, -.705, -.945, -.605, -.94, -.495, -.9, -.35, -.91, 1, -.918]),
    (7, [.08, -.05, .075, -.07, .1, -.11, .105, -.085, .08, -.05]),
]
j_fingers = [
    (0, [-1, -.04, -.51, -.036, -.145, -.035, -.1, -.015, -.02, .065, .01, .09]),
    (0, [.005, .08, -.075, 0, -.115, -.08, -.1, -.11, -.035, -.105, .005, -.1]),
    (1, [.01, .075, -.07, -.015, -.085, -.07, -.07, -.09, .005, -.095]),
    (2, [.01, .07, -.05, -.01, -.06, -.06, -.06, -.07]),
    (3, [.015, .06, -.035, -.01, -.045, -.06]),
    (4, [.015, .05, -.025, -.01, -.03, -.05]),
    (5, [.02, .05, -.015, -.01, -.02, -.045]),
    (6, [.02, .04, -.01, -.01, -.01, -.03]),
]
j_left = [
    (0, [-.925, 1, -.92, .97, -.89, .885, -.76, .835]),
    (0, [-1, .725, -.945, .71, -.88, .655, -.59, .505, -.29, .36]),
    (0, [-1, -.675, -.93, -.66, -.84, -.605, -.59, -.505, -.32, -.4]),
    (0, [-1, -.935, -.935, -.92, -.855, -.835, -.79, -.805, -.69, -.78]),
]

# axes boxes in pixels
col_left = [136.7, 943.4, 1749.8, 2557.0]
col_right = [715.7, 1522.7, 2329.5, 3139.0]
row_top = [107.2, 967.2, 1828.0]
row_bottom = [684.6, 1545.6, 2406.5]

W, H = 3187, 2510
fig = plt.figure(figsize=(W / 100, H / 100), dpi=100)


def rounded(pts, d=0.05):
    # keep the read points as corners, only round each corner a little
    xy = np.array(pts, dtype=float).reshape(-1, 2)
    verts, codes = [xy[0]], [Path.MOVETO]
    for i in range(1, len(xy) - 1):
        p, a, b = xy[i], xy[i - 1], xy[i + 1]
        la, lb = np.hypot(*(a - p)), np.hypot(*(b - p))
        p0 = p + (a - p) / la * min(d, la / 2)
        p1 = p + (b - p) / lb * min(d, lb / 2)
        verts += [p0, p, p1]
        codes += [Path.LINETO, Path.CURVE3, Path.CURVE3]
    verts.append(xy[-1])
    codes.append(Path.LINETO)
    return Path(verts, codes)


def draw_panel(row, col, title, walls, *groups):
    l, r = col_left[col], col_right[col]
    t, b = row_top[row], row_bottom[row]
    ax = fig.add_axes([l / W, 1 - b / H, (r - l) / W, (b - t) / H])
    for lines in groups:
        for lev, pts in lines:
            ax.add_patch(PathPatch(rounded(pts), fc='none', ec=level_colors[lev], lw=2.3, zorder=2))
    for w in walls:
        ax.plot(w[0::2], w[1::2], color='black', lw=9.3, solid_capstyle='round', zorder=3)
    ax.set_xlim(-1, 1)
    ax.set_ylim(-1, 1)
    ax.set_xticks(ticks)
    ax.set_yticks(ticks)
    ax.tick_params(labelsize=31, length=5.6, width=1.1, pad=5.5)
    for s in ax.spines.values():
        s.set_linewidth(4.0)
        s.set_zorder(6)
    ax.set_title(title, fontsize=31.6, x=0.479, pad=30)


draw_panel(0, 0, titles[0], wall_fwd, a_upper, a_fingers, a_lower, a_left, core)
draw_panel(0, 1, titles[1], wall_fwd, b_upper, b_fingers, b_lower, b_left_upper, b_loop, b_left_lower, core)
draw_panel(0, 2, titles[2], wall_fwd, c_upper, c_wedge7, c_fingers, c_hug, spiral, c_inner, b_left_upper, c_left_lower, c_loop, core)
draw_panel(1, 0, titles[3], wall_fwd, b_upper, d_arcs, d_lower, b_left_upper, d_left_lower, d_loop, core)
draw_panel(1, 1, titles[4], wall_fwd, c_upper, e_arcs, e_hug, e_wedge7, e_teardrop, e_inner6, spiral, e_left_upper, e_left_lower, core_e)
draw_panel(1, 2, titles[5], wall_fwd, c_upper, e_arcs, f_lower, e_left_upper, e_left_lower, core_e)
draw_panel(2, 0, titles[6], wall_mid, g_upper, g_lower, g_left, g_fingers, core)
draw_panel(2, 1, titles[7], wall_mid, g_upper, g_lower, g_left, h_fingers, core)
draw_panel(2, 2, titles[8], wall_back, i_lines, i_fingers, i_left, core)
draw_panel(2, 3, titles[9], wall_back_j, j_lines, j_fingers, j_left, core)

fig.savefig('out.png', dpi=100, facecolor='white')
